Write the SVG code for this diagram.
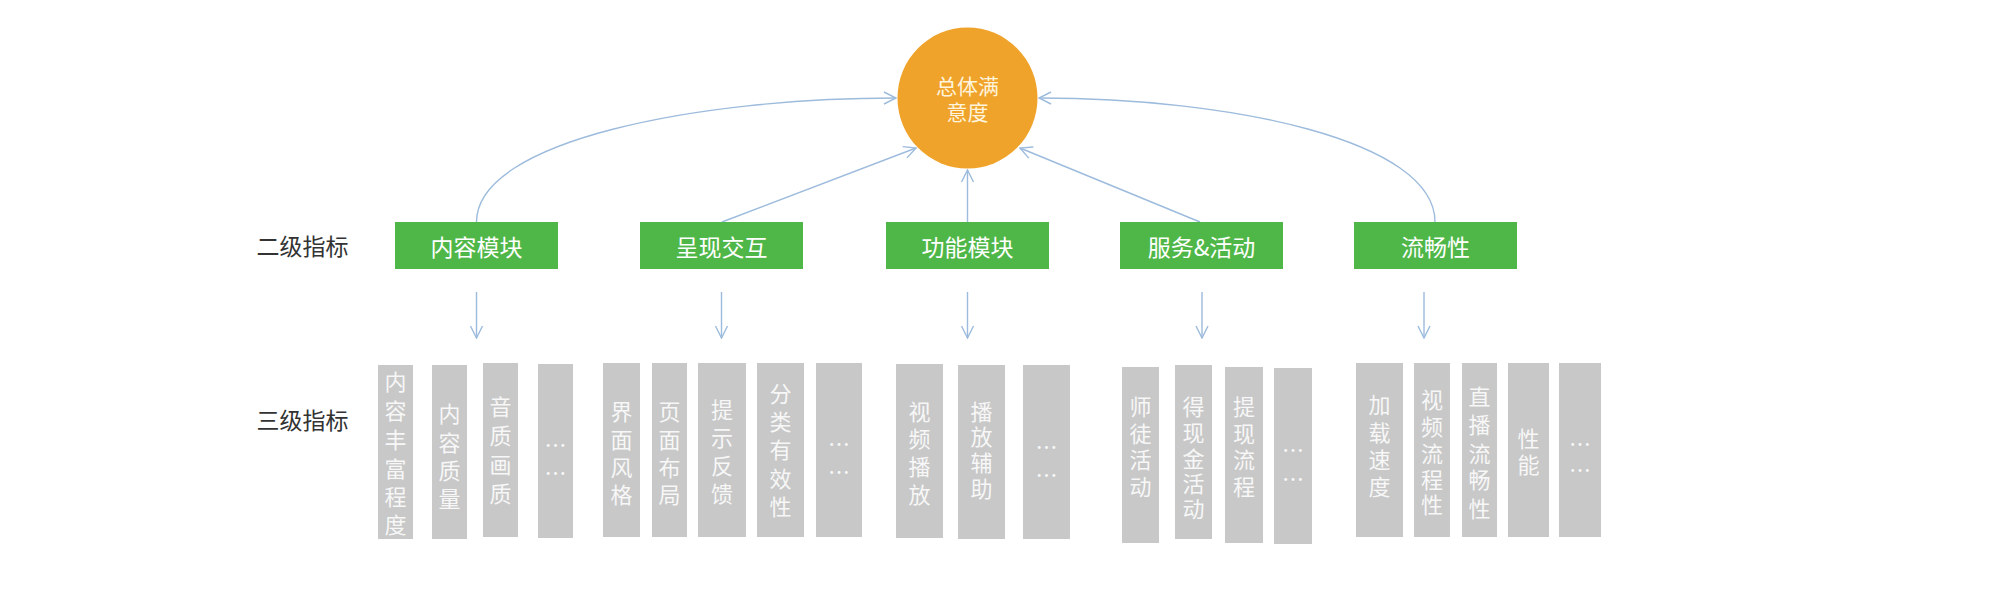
<svg xmlns="http://www.w3.org/2000/svg" width="2000" height="598" viewBox="0 0 2000 598">
<style>
text{font-family:"Noto Sans CJK SC","Noto Sans",sans-serif;}
.lbl{font-size:23px;fill:#333333;text-anchor:middle;dominant-baseline:central;}
.g2{fill:#4fb748;}
.g2t{font-size:23px;fill:#ffffff;text-anchor:middle;dominant-baseline:central;}
.g3{fill:#c8c8c8;}
.g3t{font-size:22px;fill:#f7f7f7;text-anchor:middle;dominant-baseline:central;}
.top{fill:#f0a32b;}
.topt{font-size:21px;fill:#fff4dc;text-anchor:middle;dominant-baseline:central;}
.con{fill:none;stroke:#9dbbdc;stroke-width:1.4;marker-end:url(#ah);}
</style>
<defs>
<marker id="ah" viewBox="0 0 14 14" refX="13" refY="7" markerWidth="14" markerHeight="14" markerUnits="userSpaceOnUse" orient="auto">
<path d="M1,1 L13,7 L1,13" fill="none" stroke="#9dbbdc" stroke-width="1.4"/>
</marker>
</defs>
<rect width="2000" height="598" fill="#ffffff"/>

<g id="connectors">
<path class="con" d="M476.5,222 C476.5,140 700,98 896,98"/>
<path class="con" d="M722,222 L916,148"/>
<path class="con" d="M967.5,222 L967.5,170"/>
<path class="con" d="M1200,222 L1020,148"/>
<path class="con" d="M1435,222 C1435,140 1230,98 1039,98"/>
<path class="con" d="M476.5,292 L476.5,338"/>
<path class="con" d="M721.5,292 L721.5,338"/>
<path class="con" d="M967.5,292 L967.5,338"/>
<path class="con" d="M1202,292 L1202,338"/>
<path class="con" d="M1424,292 L1424,338"/>
</g>

<g id="label-level2"><text class="lbl" x="302.5" y="245">二级指标</text></g>
<g id="label-level3"><text class="lbl" x="302.5" y="419">三级指标</text></g>

<g id="overall">
<ellipse class="top" cx="967.5" cy="98" rx="70" ry="70.5"/>
<text class="topt" x="967.5" y="85">总体满</text>
<text class="topt" x="967.5" y="111">意度</text>
</g>

<g id="n-content"><rect class="g2" x="395" y="222" width="163" height="47"/><text class="g2t" x="476.5" y="245.5">内容模块</text></g>
<g id="n-present"><rect class="g2" x="640" y="222" width="163" height="47"/><text class="g2t" x="721.5" y="245.5">呈现交互</text></g>
<g id="n-function"><rect class="g2" x="886" y="222" width="163" height="47"/><text class="g2t" x="967.5" y="245.5">功能模块</text></g>
<g id="n-service"><rect class="g2" x="1120" y="222" width="163" height="47"/><text class="g2t" x="1201.5" y="245.5">服务&amp;活动</text></g>
<g id="n-smooth"><rect class="g2" x="1354" y="222" width="163" height="47"/><text class="g2t" x="1435.5" y="245.5">流畅性</text></g>

<g id="t1"><rect class="g3" x="378" y="365" width="35" height="174"/><text class="g3t"><tspan x="395.5" y="380">内</tspan><tspan x="395.5" y="409">容</tspan><tspan x="395.5" y="438">丰</tspan><tspan x="395.5" y="467">富</tspan><tspan x="395.5" y="495">程</tspan><tspan x="395.5" y="523">度</tspan></text></g>
<g id="t2"><rect class="g3" x="432" y="365" width="35" height="174"/><text class="g3t"><tspan x="449.5" y="412">内</tspan><tspan x="449.5" y="441">容</tspan><tspan x="449.5" y="469">质</tspan><tspan x="449.5" y="497">量</tspan></text></g>
<g id="t3"><rect class="g3" x="483" y="363" width="35" height="174"/><text class="g3t"><tspan x="500.5" y="405">音</tspan><tspan x="500.5" y="434">质</tspan><tspan x="500.5" y="463">画</tspan><tspan x="500.5" y="492">质</tspan></text></g>
<g id="t4"><rect class="g3" x="538" y="364" width="35" height="174"/><text class="g3t"><tspan x="555.5" y="443">…</tspan><tspan x="555.5" y="471">…</tspan></text></g>

<g id="t5"><rect class="g3" x="603" y="363" width="37" height="174"/><text class="g3t"><tspan x="621.5" y="410">界</tspan><tspan x="621.5" y="438">面</tspan><tspan x="621.5" y="466">风</tspan><tspan x="621.5" y="493">格</tspan></text></g>
<g id="t6"><rect class="g3" x="652" y="363" width="35" height="174"/><text class="g3t"><tspan x="669.5" y="410">页</tspan><tspan x="669.5" y="438">面</tspan><tspan x="669.5" y="466">布</tspan><tspan x="669.5" y="493">局</tspan></text></g>
<g id="t7"><rect class="g3" x="698" y="363" width="48" height="174"/><text class="g3t"><tspan x="722" y="408">提</tspan><tspan x="722" y="436">示</tspan><tspan x="722" y="464">反</tspan><tspan x="722" y="492">馈</tspan></text></g>
<g id="t8"><rect class="g3" x="757" y="363" width="47" height="174"/><text class="g3t"><tspan x="780.5" y="392">分</tspan><tspan x="780.5" y="420">类</tspan><tspan x="780.5" y="448">有</tspan><tspan x="780.5" y="477">效</tspan><tspan x="780.5" y="505">性</tspan></text></g>
<g id="t9"><rect class="g3" x="816" y="363" width="46" height="174"/><text class="g3t"><tspan x="839" y="442">…</tspan><tspan x="839" y="470">…</tspan></text></g>

<g id="t10"><rect class="g3" x="896" y="364" width="47" height="174"/><text class="g3t"><tspan x="919.5" y="410">视</tspan><tspan x="919.5" y="437">频</tspan><tspan x="919.5" y="465">播</tspan><tspan x="919.5" y="493">放</tspan></text></g>
<g id="t11"><rect class="g3" x="958" y="365" width="47" height="174"/><text class="g3t"><tspan x="981.5" y="410">播</tspan><tspan x="981.5" y="435">放</tspan><tspan x="981.5" y="461">辅</tspan><tspan x="981.5" y="487">助</tspan></text></g>
<g id="t12"><rect class="g3" x="1023" y="365" width="47" height="174"/><text class="g3t"><tspan x="1046.5" y="445">…</tspan><tspan x="1046.5" y="473">…</tspan></text></g>

<g id="t13"><rect class="g3" x="1122" y="367" width="37" height="176"/><text class="g3t"><tspan x="1140.5" y="405">师</tspan><tspan x="1140.5" y="432">徒</tspan><tspan x="1140.5" y="458">活</tspan><tspan x="1140.5" y="485">动</tspan></text></g>
<g id="t14"><rect class="g3" x="1175" y="365" width="37" height="174"/><text class="g3t"><tspan x="1193.5" y="405">得</tspan><tspan x="1193.5" y="431">现</tspan><tspan x="1193.5" y="457">金</tspan><tspan x="1193.5" y="482">活</tspan><tspan x="1193.5" y="507">动</tspan></text></g>
<g id="t15"><rect class="g3" x="1225" y="367" width="38" height="176"/><text class="g3t"><tspan x="1244" y="405">提</tspan><tspan x="1244" y="432">现</tspan><tspan x="1244" y="458">流</tspan><tspan x="1244" y="485">程</tspan></text></g>
<g id="t16"><rect class="g3" x="1274" y="368" width="38" height="176"/><text class="g3t"><tspan x="1293" y="448">…</tspan><tspan x="1293" y="477">…</tspan></text></g>

<g id="t17"><rect class="g3" x="1356" y="363" width="47" height="174"/><text class="g3t"><tspan x="1379.5" y="403">加</tspan><tspan x="1379.5" y="431">载</tspan><tspan x="1379.5" y="458">速</tspan><tspan x="1379.5" y="485">度</tspan></text></g>
<g id="t18"><rect class="g3" x="1414" y="363" width="36" height="174"/><text class="g3t"><tspan x="1432" y="398">视</tspan><tspan x="1432" y="425">频</tspan><tspan x="1432" y="452">流</tspan><tspan x="1432" y="478">程</tspan><tspan x="1432" y="503">性</tspan></text></g>
<g id="t19"><rect class="g3" x="1462" y="363" width="35" height="174"/><text class="g3t"><tspan x="1479.5" y="395">直</tspan><tspan x="1479.5" y="423">播</tspan><tspan x="1479.5" y="452">流</tspan><tspan x="1479.5" y="478">畅</tspan><tspan x="1479.5" y="507">性</tspan></text></g>
<g id="t20"><rect class="g3" x="1508" y="363" width="41" height="174"/><text class="g3t"><tspan x="1528.5" y="437">性</tspan><tspan x="1528.5" y="463">能</tspan></text></g>
<g id="t21"><rect class="g3" x="1559" y="363" width="42" height="174"/><text class="g3t"><tspan x="1580" y="442">…</tspan><tspan x="1580" y="468">…</tspan></text></g>
</svg>
